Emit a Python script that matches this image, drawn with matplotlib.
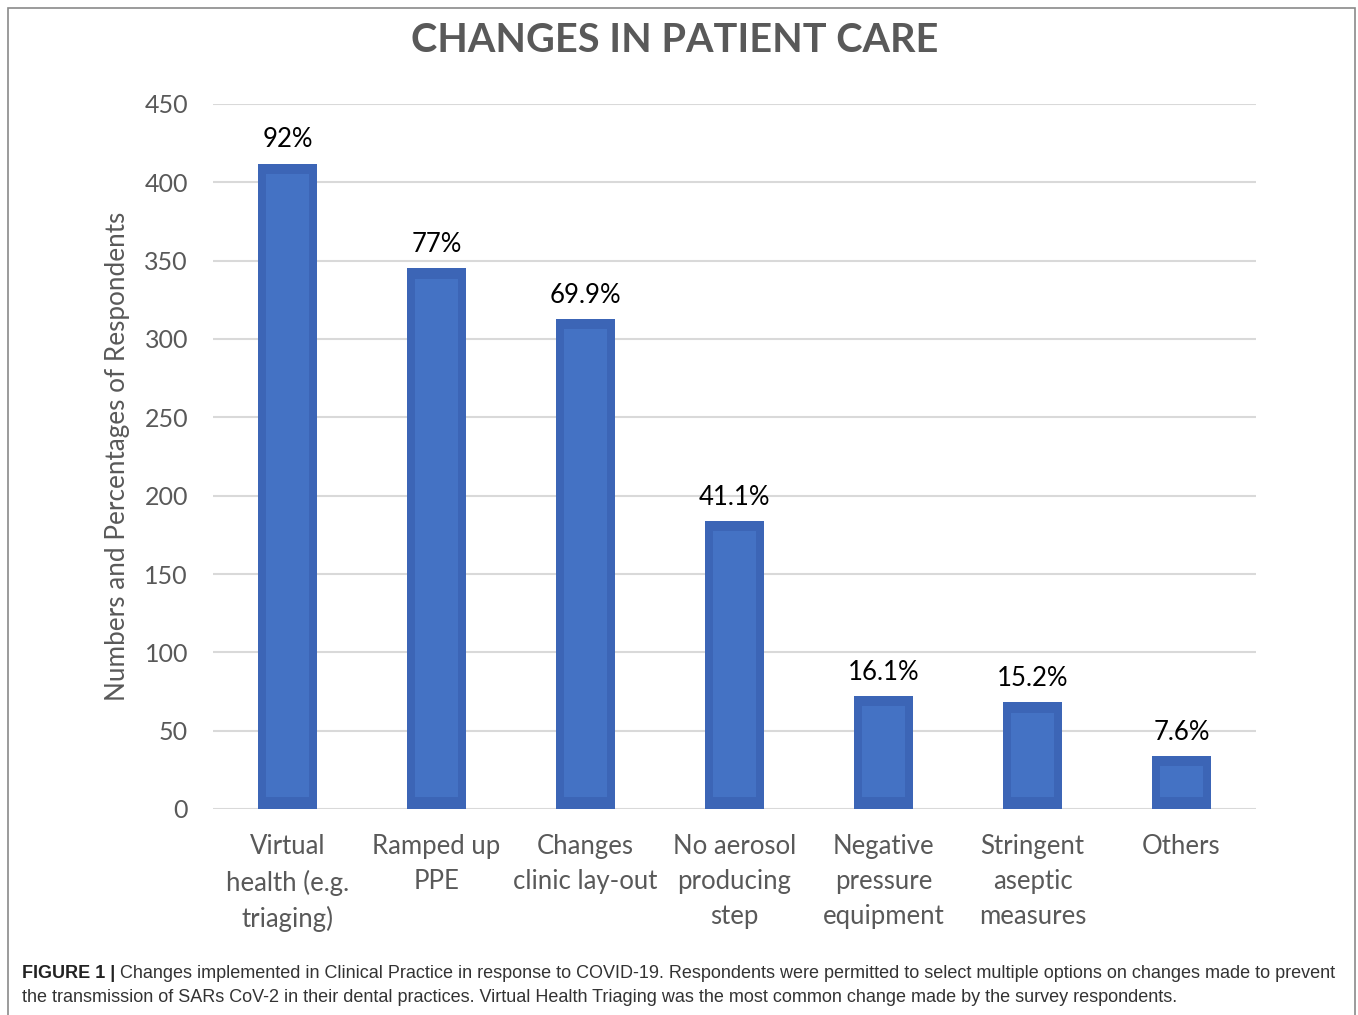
import numpy as np
import matplotlib.pyplot as plt
from matplotlib.patches import Rectangle

categories = ["Virtual\nhealth (e.g.\ntriaging)", "Ramped up\nPPE", "Changes\nclinic lay-out",
              "No aerosol\nproducing\nstep", "Negative\npressure\nequipment",
              "Stringent\naseptic\nmeasures", "Others"]
counts = [412, 345, 313, 184, 72, 68, 34]
pct_labels = ["92%", "77%", "69.9%", "41.1%", "16.1%", "15.2%", "7.6%"]
yticks = [0, 50, 100, 150, 200, 250, 300, 350, 400, 450]

caption_bold = "FIGURE 1 |"
caption_1 = (" Changes implemented in Clinical Practice in response to COVID-19. Respondents were "
             "permitted to select multiple options on changes made to prevent")
caption_2 = ("the transmission of SARs CoV-2 in their dental practices. Virtual Health Triaging was "
             "the most common change made by the survey respondents.")

plt.rcParams['font.family'] = ['Lato', 'DejaVu Sans']
gray = "#595959"

fig = plt.figure(figsize=(13.58, 10.15), dpi=100)
ax = fig.add_axes([213/1358, 1-809/1015, (1256-213)/1358, (809-104)/1015])

x = np.arange(len(counts))
w = 0.4
ax.bar(x, counts, width=w, color="#3c65b6", zorder=2)
# lighter inner panel of each bar
inset_x = 8/149
inset_top = 6.5
inset_bot = 7.5
inner = [max(c - inset_top - inset_bot, 0) for c in counts]
ax.bar(x, inner, bottom=inset_bot, width=w - 2*inset_x, color="#4472c4", zorder=3)

for xi, c, lab in zip(x, counts, pct_labels):
    ax.annotate(lab, (xi, c), xytext=(0, 8), textcoords="offset points",
                ha="center", va="bottom", fontsize=18.5, color="black")

ax.set_xlim(-0.5, len(counts) - 0.5)
ax.set_ylim(0, 450)
ax.set_yticks(yticks)
ax.yaxis.grid(True, color="#d9d9d9", lw=1.5, zorder=0)
ax.set_axisbelow(True)
for s in ax.spines.values():
    s.set_visible(False)
ax.tick_params(axis="y", length=0, pad=18, labelsize=18, labelcolor=gray)
ax.tick_params(axis="x", length=0, pad=18, labelsize=18.5, labelcolor=gray)
ax.set_xticks(x)
ax.set_xticklabels(categories, linespacing=1.5, va="top")
ax.set_ylabel("Numbers and Percentages of Respondents", fontsize=18.8, color=gray, labelpad=10)

fig.text(675/1358, 1-41/1015, "CHANGES IN PATIENT CARE", ha="center", va="center",
         fontsize=28.5, fontweight="bold", color=gray)

# frame around the figure
fig.patches.append(Rectangle((8/1358, -0.01), (1355-8)/1358, 1 - 8/1015 + 0.01,
                             transform=fig.transFigure, fill=False, ec="#8a8a8a", lw=1.2))

# caption
cfont = ['Liberation Sans', 'DejaVu Sans']
cs = 13
t1 = fig.text(22/1358, 1-973/1015, caption_bold, fontsize=cs, fontweight="bold",
              family=cfont, color="#222222", va="center")
fig.canvas.draw()
bb = t1.get_window_extent()
fig.text(bb.x1/1358, 1-973/1015, caption_1, fontsize=cs, family=cfont, color="#333333",
         va="center")
fig.text(22/1358, 1-998/1015, caption_2, fontsize=cs, family=cfont, color="#333333",
         va="center")

fig.savefig("out.png", dpi=100)
